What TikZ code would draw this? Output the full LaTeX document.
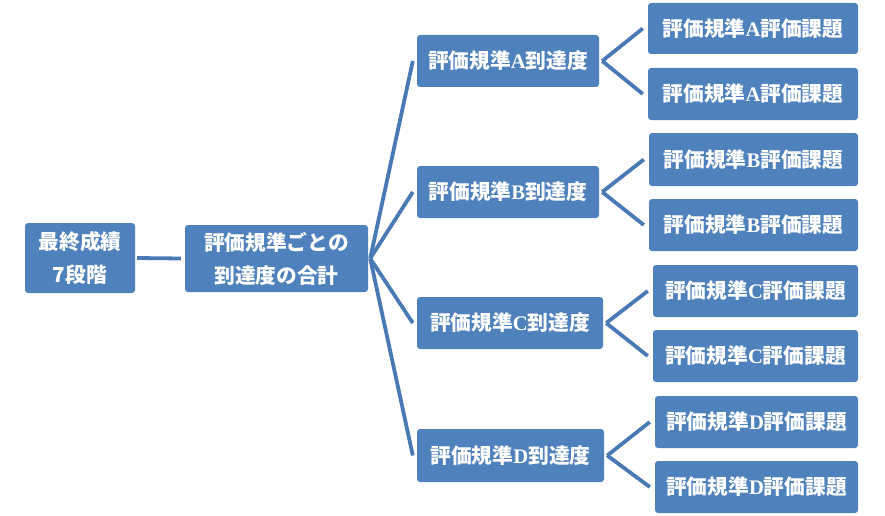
\documentclass[tikz,border=0pt]{standalone}
\usepackage{fontspec}
\newfontfamily\cjk{Noto Sans CJK JP}
\newfontfamily\lat{Liberation Serif}
\definecolor{boxblue}{HTML}{4F81BD}
\definecolor{lineblue}{HTML}{4A7AB6}
\newcommand{\latL}[1]{{\lat\bfseries #1}}
\begin{document}
\begin{tikzpicture}[x=1pt,y=-1pt,
  bx/.style={fill=boxblue, draw=none, rounded corners=3pt, text=white,
    font=\cjk\bfseries\fontsize{20.7}{33}\selectfont, inner sep=0pt, align=center},
  ln/.style={draw=lineblue, line width=3.8pt}]
\useasboundingbox (0,0) rectangle (885,516);
\node[bx, minimum width=110pt, minimum height=70pt] (fin) at (80,258) {最終成績\\7段階};
\node[bx, minimum width=183pt, minimum height=67pt] (sum) at (276.5,258.5) {評価規準ごとの\\到達度の合計};
\node[bx, minimum width=182pt, minimum height=52pt] (A) at (508,61) {評価規準\latL{A}到達度};
\node[bx, minimum width=182pt, minimum height=52pt] (B) at (508,192) {評価規準\latL{B}到達度};
\node[bx, minimum width=186pt, minimum height=52pt] (C) at (510,323) {評価規準\latL{C}到達度};
\node[bx, minimum width=187pt, minimum height=53pt] (D) at (510.5,455.5) {評価規準\latL{D}到達度};
\node[bx, minimum width=210pt, minimum height=51pt] (A1) at (753,28.5) {評価規準\latL{A}評価課題};
\node[bx, minimum width=210pt, minimum height=52pt] (A2) at (753,94) {評価規準\latL{A}評価課題};
\node[bx, minimum width=209pt, minimum height=53pt] (B1) at (753.5,159.5) {評価規準\latL{B}評価課題};
\node[bx, minimum width=209pt, minimum height=52pt] (B2) at (753.5,225) {評価規準\latL{B}評価課題};
\node[bx, minimum width=205pt, minimum height=52pt] (C1) at (755.5,291) {評価規準\latL{C}評価課題};
\node[bx, minimum width=205pt, minimum height=52pt] (C2) at (755.5,356) {評価規準\latL{C}評価課題};
\node[bx, minimum width=203pt, minimum height=52pt] (D1) at (756.5,422) {評価規準\latL{D}評価課題};
\node[bx, minimum width=203pt, minimum height=52pt] (D2) at (756.5,487) {評価規準\latL{D}評価課題};
\draw[ln] ([xshift=2pt]fin.east) -- ([xshift=-4pt]sum.west);
\foreach \n in {A,B,C,D}
  \draw[ln] ([xshift=2pt]sum.east) -- ([xshift=-4pt]\n.west);
\foreach \p in {A,B,C,D}{
  \draw[ln] ([xshift=3pt]\p.east) -- ([xshift=-5pt]\p1.west);
  \draw[ln] ([xshift=3pt]\p.east) -- ([xshift=-5pt]\p2.west);
}
\end{tikzpicture}
\end{document}
